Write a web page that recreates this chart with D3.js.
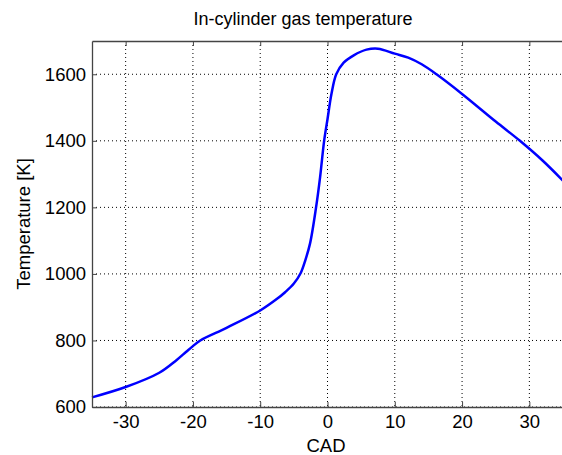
<!DOCTYPE html>
<html>
<head>
<meta charset="utf-8">
<script src="https://cdn.jsdelivr.net/npm/d3@7"></script>
<style>
  body { margin: 0; background: #fff; }
  text { font-family: "Liberation Sans", Arial, sans-serif; fill: #000; }
</style>
</head>
<body>
<svg width="562" height="455"></svg>
<script>
var cad = [-35, -30, -25, -22.5, -21, -20, -18.9, -15, -10, -7.5, -6.3, -5, -4, -3.3, -2.6, -1.7, -1.1, -0.5, 0, 0.6, 1.3, 2.4, 3.9, 5.8, 7.5, 10, 12, 14, 16.2, 20, 25, 28.6, 32, 35];
var temp = [629, 660, 703, 740, 766, 783, 800, 838, 890, 925, 945, 971, 1002, 1041, 1091, 1200, 1291, 1400, 1465, 1542, 1600, 1635, 1657, 1674, 1677, 1662, 1650, 1630, 1600, 1541, 1458, 1400, 1340, 1280];
var xTicks = [-30, -20, -10, 0, 10, 20, 30];
var yTicks = [600, 800, 1000, 1200, 1400, 1600];

var svg = d3.select('svg');
var plotLeft = 92, plotRight = 563, plotTop = 41, plotBottom = 407;

var xScale = d3.scaleLinear().domain([-35, 35]).range([plotLeft, plotRight]);
var yScale = d3.scaleLinear().domain([600, 1700]).range([plotBottom, plotTop]);

var data = cad.map(function(c, i) { return [c, temp[i]]; });
var plain = function(d) { return String(d); };

// grid
svg.append('g').selectAll('line').data(xTicks).enter().append('line')
  .attr('x1', function(d) { return xScale(d); })
  .attr('x2', function(d) { return xScale(d); })
  .attr('y1', plotTop).attr('y2', plotBottom)
  .attr('stroke', '#000').attr('stroke-width', 1).attr('stroke-dasharray', '1,3');
svg.append('g').selectAll('line').data(yTicks).enter().append('line')
  .attr('y1', function(d) { return yScale(d); })
  .attr('y2', function(d) { return yScale(d); })
  .attr('x1', plotLeft).attr('x2', plotRight)
  .attr('stroke', '#000').attr('stroke-width', 1).attr('stroke-dasharray', '1,3');

// curve
var line = d3.line()
  .x(function(d) { return xScale(d[0]); })
  .y(function(d) { return yScale(d[1]); })
  .curve(d3.curveCatmullRom.alpha(0.5));
svg.append('path').datum(data)
  .attr('d', line)
  .attr('fill', 'none')
  .attr('stroke', '#0000ff')
  .attr('stroke-width', 2.5);

// axes (ticks inward)
var xAxis = d3.axisBottom(xScale).tickValues(xTicks).tickFormat(plain).tickSizeInner(-5).tickSizeOuter(0).tickPadding(8);
var xTop = d3.axisTop(xScale).tickValues(xTicks).tickSizeInner(-5).tickSizeOuter(0).tickFormat('');
var yAxis = d3.axisLeft(yScale).tickValues(yTicks).tickFormat(plain).tickSizeInner(-5).tickSizeOuter(0).tickPadding(6);

var gx = svg.append('g').attr('transform', 'translate(0,' + plotBottom + ')').call(xAxis);
var gt = svg.append('g').attr('transform', 'translate(0,' + plotTop + ')').call(xTop);
var gy = svg.append('g').attr('transform', 'translate(' + plotLeft + ',0)').call(yAxis);

[gx, gt, gy].forEach(function(g) {
  g.selectAll('.domain').attr('stroke', '#444').attr('stroke-width', 1.3);
  g.selectAll('.tick line').attr('stroke', '#444');
  g.selectAll('text').style('font-size', '18.5px').attr('fill', '#000');
});
gx.selectAll('text').attr('dy', '0.71em');

// labels
svg.append('text').attr('x', 303).attr('y', 25).attr('text-anchor', 'middle')
  .style('font-size', '18px').text('In-cylinder gas temperature');
svg.append('text').attr('x', 326).attr('y', 452).attr('text-anchor', 'middle')
  .style('font-size', '18.5px').text('CAD');
svg.append('text').attr('transform', 'translate(30,224) rotate(-90)').attr('text-anchor', 'middle')
  .style('font-size', '18.5px').text('Temperature [K]');
</script>
</body>
</html>
